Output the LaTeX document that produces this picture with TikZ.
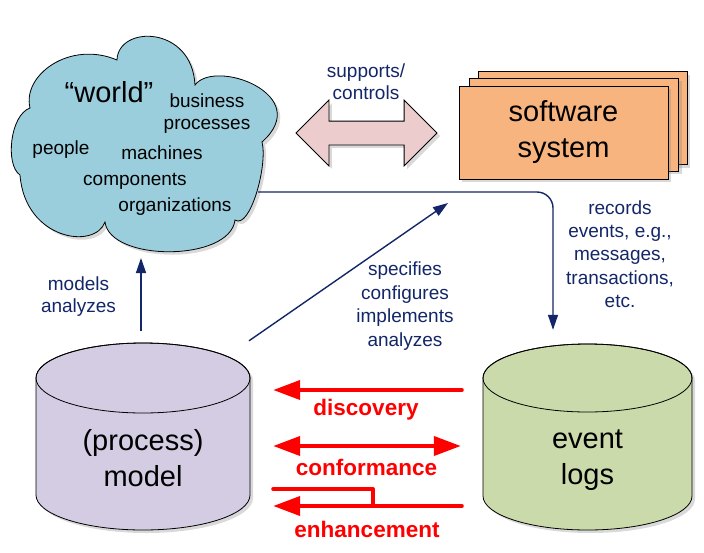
\documentclass[tikz,border=0pt]{standalone}
\usepackage{fontspec}
\setmainfont{Liberation Sans}
\usetikzlibrary{positioning,shapes,shadows,arrows.meta}

\definecolor{navy}{RGB}{18,38,104}
\definecolor{cloudblue}{RGB}{155,206,221}
\definecolor{pinkfill}{RGB}{236,204,204}
\definecolor{swfill}{RGB}{248,180,126}
\definecolor{modelfill}{RGB}{212,204,226}
\definecolor{logsfill}{RGB}{203,218,170}

\begin{document}
\begin{tikzpicture}[%
        x=1pt,y=-1pt,
        lbl/.style={text=navy, align=center, font=\fontsize{19}{23}\selectfont},
        cloudtxt/.style={align=center, font=\fontsize{19}{22}\selectfont},
        bigtxt/.style={align=center, font=\fontsize{29}{36}\selectfont},
        redtxt/.style={text=red, font=\bfseries\fontsize{22.5}{26}\selectfont},
        shade/.style={drop shadow={opacity=0.3, shadow xshift=3pt, shadow yshift=-3pt}},
        conn/.style={draw=navy, line width=1.4pt, -{Triangle[length=15pt,width=10pt]}},
        redline/.style={draw=red, line width=4pt, line cap=round, line join=round},
        redarr/.style={redline, -{Triangle[length=27pt,width=19pt]}},
        outline/.style={draw, line width=0.8pt},
        swbox/.style={outline, fill=swfill, minimum width=209pt, minimum height=93pt, shade},
        fatarrow/.style={double arrow, outline, fill=pinkfill, inner xsep=0pt,
          inner ysep=11.5pt, minimum height=141pt, double arrow head extend=21pt, shade}
      ]
      \useasboundingbox (0,0) rectangle (704,552);

      % the world
      \draw[outline, fill=cloudblue, shade] (30,108)
        .. controls (22,75) and (70,40) .. (117,60)
        .. controls (118,25) and (192,25) .. (195,85)
        .. controls (215,58) and (315,95) .. (262,142)
        .. controls (268,165) and (250,230) .. (235,220)
        .. controls (230,262) and (110,262) .. (105,222)
        .. controls (95,250) and (25,240) .. (20,175)
        .. controls (5,165) and (10,115) .. cycle;
      \node[cloudtxt, font=\fontsize{29}{34}\selectfont] (world) at (109,92) {“world”};
      \node[cloudtxt] (business) at (207,114) {business\\processes};
      \node[cloudtxt] (people) at (61,150) {people};
      \node[cloudtxt] (machines) at (162,153) {machines};
      \node[cloudtxt] (components) at (135,181) {components};
      \node[cloudtxt] (organizations) at (175,207) {organizations};
      \coordinate (worldbot) at (141,243);
      \coordinate (worldout) at (258,192);

      % software system
      \node[swbox] (sw3) at (582.5,118) {};
      \node[swbox] (sw2) at ([shift={(-8.5,6.5)}]sw3) {};
      \node[swbox, bigtxt] (sw1) at ([shift={(-10.5,8)}]sw2) {software\\system};

      \node[fatarrow] (supports) at (366.5,133) {};
      \node[lbl, font=\fontsize{19}{22}\selectfont] (suplbl) at (366,82) {supports/\\controls};

      % model and logs
      \draw[outline, fill=modelfill, shade] (36,378) -- (36,495)
        arc[start angle=180, end angle=0, x radius=107, y radius=35] -- (250,378)
        arc[start angle=0, end angle=-180, x radius=107, y radius=35] -- cycle;
      \draw[outline] (143,378) ellipse[x radius=107, y radius=35];
      \node[minimum width=214pt, minimum height=187pt, inner sep=0pt] (model) at (143,436.5) {};
      \node[bigtxt] (modeltxt) at (143,458) {(process)\\model};

      \draw[outline, fill=logsfill, shade] (483,378) -- (483,496)
        arc[start angle=180, end angle=0, x radius=104.5, y radius=34] -- (692,378)
        arc[start angle=0, end angle=-180, x radius=104.5, y radius=34] -- cycle;
      \draw[outline] (587.5,378) ellipse[x radius=104.5, y radius=34];
      \node[minimum width=209pt, minimum height=186pt, inner sep=0pt] (logs) at (587.5,437) {};
      \node[bigtxt] (logstxt) at (587.5,460) {event\\logs};

      \node[lbl, font=\fontsize{19}{22}\selectfont] (modlbl) at (78.5,297) {models\\analyzes};
      \node[lbl, font=\fontsize{19}{23.6}\selectfont] (speclbl) at (405,306) {specifies\\configures\\implements\\analyzes};
      \node[lbl, font=\fontsize{19}{23.3}\selectfont] (reclbl) at (620,254) {records\\events, e.g.,\\messages,\\transactions,\\etc.};

      \draw[conn, shorten <=12pt, shorten >=15pt] (model.north -| worldbot) -- (worldbot);
      \draw[conn] ([shift={(106,-2)}]model.north) -- (448,203);
      \draw[conn, rounded corners=16pt, shorten >=14pt] (worldout) -| ([xshift=-34.5pt]logs.north);

      % discovery, conformance, enhancement
      \node[redtxt] (disc) at (366,410) {discovery};
      \node[redtxt] (conf) at (366.5,467) {conformance};
      \node[redtxt] (enh) at (367,529) {enhancement};
      \draw[redarr, shorten <=21pt, shorten >=23pt] (logs.west |- 0,390) -- (model.east |- 0,390);
      \draw[redarr, {Triangle[length=27pt,width=19pt]}-{Triangle[length=27pt,width=19pt]},
        shorten <=22pt, shorten >=23pt] (logs.west |- 0,446) -- (model.east |- 0,446);
      \draw[redarr, shorten <=21pt, shorten >=23pt] (logs.west |- 0,506) -- (model.east |- 0,506);
      \draw[redline, shorten <=23pt] (model.east |- 0,489) -- (373,489) -- (373,506);
  \end{tikzpicture}
\end{document}
